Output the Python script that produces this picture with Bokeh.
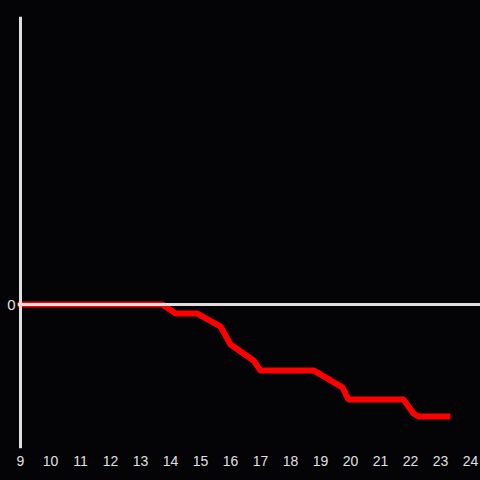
from bokeh.plotting import figure
from bokeh.models import Range1d, FixedTicker, Span, InlineStyleSheet
from bokeh.embed import file_html
from bokeh.resources import INLINE

hours = [8.9, 13.73, 14.17, 14.9, 15.67, 16.0, 16.77, 17.0, 18.77, 19.73, 19.93, 21.77, 22.1, 22.27, 23.33]
values = [0, 0, -6.3, -6.3, -15.3, -27.8, -38.9, -45.8, -45.8, -57.6, -66.0, -66.0, -75.7, -77.8, -77.8]
x_ticks = list(range(9, 25))
y_ticks = [0]

BG = "#040306"
FG = "#e0e0e0"

p = figure(width=480, height=480, output_backend="svg", toolbar_location=None,
           x_range=Range1d(8.9, 9 + 460 / 30), y_range=Range1d(-100, 200),
           background_fill_color=BG, border_fill_color=BG,
           min_border_left=17, min_border_right=0, min_border_top=16, min_border_bottom=32)
p.stylesheets = [InlineStyleSheet(css=":host { background-color: #040306; }")]
p.outline_line_color = None
p.grid.visible = False

p.xaxis.ticker = FixedTicker(ticks=x_ticks)
p.xaxis.axis_line_color = None
p.xaxis.major_tick_line_color = None
p.xaxis.minor_tick_line_color = None
p.xaxis.major_tick_out = 0
p.xaxis.major_tick_in = 0
p.xaxis.major_label_text_color = FG
p.xaxis.major_label_text_font = "Liberation Sans"
p.xaxis.major_label_text_font_size = "14px"
p.xaxis.major_label_standoff = 7

p.yaxis.ticker = FixedTicker(ticks=y_ticks)
p.yaxis.axis_line_color = None
p.yaxis.major_tick_line_color = None
p.yaxis.minor_tick_line_color = None
p.yaxis.major_tick_out = 0
p.yaxis.major_tick_in = 0
p.yaxis.major_label_text_color = FG
p.yaxis.major_label_text_font = "Liberation Sans"
p.yaxis.major_label_text_font_size = "15px"
p.yaxis.major_label_standoff = 2

p.add_layout(Span(location=9, dimension="height", line_color=FG, line_width=3))
p.add_layout(Span(location=0, dimension="width", line_color=FG, line_width=3))

p.line(hours, values, line_color="#ff0000", line_width=6)

open("out.html", "w").write(file_html(p, INLINE))
